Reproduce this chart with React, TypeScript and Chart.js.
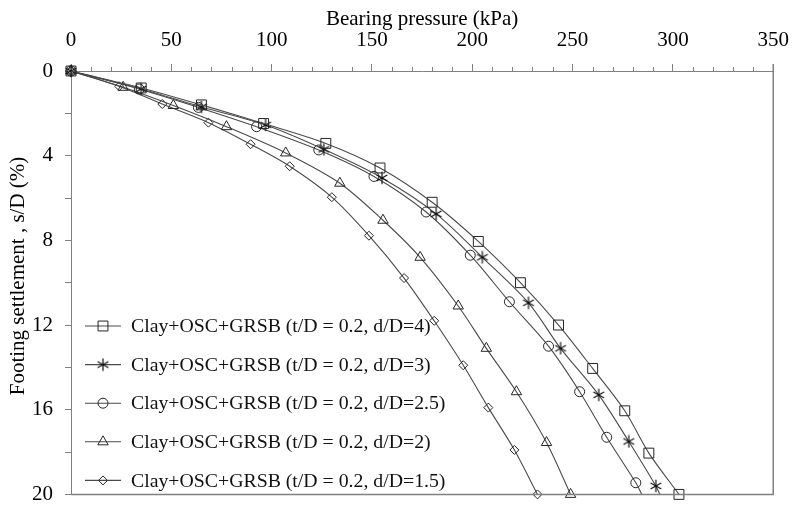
import React, { useEffect, useRef } from 'react';
import { Chart, registerables } from 'chart.js';

Chart.register(...registerables);

// ---- Data ----
const seriesLabels = [
  'Clay+OSC+GRSB (t/D = 0.2, d/D=4)',
  'Clay+OSC+GRSB (t/D = 0.2, d/D=3)',
  'Clay+OSC+GRSB (t/D = 0.2, d/D=2.5)',
  'Clay+OSC+GRSB (t/D = 0.2, d/D=2)',
  'Clay+OSC+GRSB (t/D = 0.2, d/D=1.5)',
];

const pressureD4 = [0, 35, 65, 96, 127, 154, 180, 203, 224, 243, 260, 276, 288, 303];
const settleD4 = [0, 0.8, 1.6, 2.48, 3.42, 4.58, 6.2, 8.05, 10.0, 12.0, 14.05, 16.05, 18.05, 20];

const pressureD3 = [0, 35, 65, 97, 126, 155, 182, 205, 228, 244, 263, 278, 291.5, 293.5];
const settleD3 = [0, 0.85, 1.7, 2.55, 3.7, 5.05, 6.75, 8.8, 10.95, 13.1, 15.3, 17.5, 19.6, 20];

const pressureD25 = [0, 34, 63.5, 92.5, 123.5, 151, 177, 199, 218.5, 238, 253.5, 267, 281.5, 284.5];
const settleD25 = [0, 0.85, 1.72, 2.63, 3.73, 4.98, 6.66, 8.7, 10.9, 13.0, 15.15, 17.3, 19.45, 20];

const pressureD2 = [0, 26, 51, 77.5, 107, 134, 155.5, 174, 193, 207, 222, 237, 249];
const settleD2 = [0, 0.77, 1.63, 2.63, 3.87, 5.3, 7.05, 8.8, 11.1, 13.1, 15.15, 17.55, 20];

const pressureD15 = [0, 24, 45.5, 68.5, 89.5, 109, 130, 148.5, 166, 181, 195.5, 208, 221, 232.5];
const settleD15 = [0, 0.72, 1.56, 2.44, 3.46, 4.5, 5.96, 7.78, 9.78, 11.8, 13.9, 15.9, 17.9, 20];

const xTitle = 'Bearing pressure (kPa)';
const yTitle = 'Footing settlement , s/D (%)';
const xTicksMax = 350;
const yTicksMax = 20;

// ---- Styling ----
const FONT = "'Liberation Serif', 'Times New Roman', serif";
const AXIS_GRAY = '#808080';
const LINE_COLOR = '#4a4a4a';
const MARK_COLOR = '#262626';

function makeStar(): HTMLCanvasElement {
  const c = document.createElement('canvas');
  c.width = 14;
  c.height = 14;
  const g = c.getContext('2d')!;
  g.strokeStyle = '#111';
  g.lineWidth = 1.2;
  const cx = 7, cy = 7, r = 6.2;
  g.beginPath();
  for (const a of [90, 30, 150]) {
    const rad = (a * Math.PI) / 180;
    g.moveTo(cx - r * Math.cos(rad), cy - r * Math.sin(rad));
    g.lineTo(cx + r * Math.cos(rad), cy + r * Math.sin(rad));
  }
  g.stroke();
  return c;
}

function drawMarker(ctx: CanvasRenderingContext2D, style: any, x: number, y: number, r: number) {
  ctx.save();
  ctx.strokeStyle = MARK_COLOR;
  ctx.lineWidth = 1;
  if (style instanceof HTMLCanvasElement) {
    ctx.drawImage(style, x - style.width / 2, y - style.height / 2);
  } else {
    ctx.beginPath();
    if (style === 'rect') {
      const s = Math.SQRT1_2 * r;
      ctx.rect(x - s, y - s, 2 * s, 2 * s);
    } else if (style === 'circle') {
      ctx.arc(x, y, r, 0, Math.PI * 2);
    } else if (style === 'triangle') {
      ctx.moveTo(x, y - r);
      ctx.lineTo(x + r * Math.sin(Math.PI * 2 / 3), y - r * Math.cos(Math.PI * 2 / 3));
      ctx.lineTo(x + r * Math.sin(Math.PI * 4 / 3), y - r * Math.cos(Math.PI * 4 / 3));
      ctx.closePath();
    } else if (style === 'rectRot') {
      ctx.moveTo(x - r, y);
      ctx.lineTo(x, y - r);
      ctx.lineTo(x + r, y);
      ctx.lineTo(x, y + r);
      ctx.closePath();
    }
    ctx.stroke();
  }
  ctx.restore();
}

export default function App() {
  const ref = useRef<HTMLCanvasElement | null>(null);

  useEffect(() => {
    if (!ref.current) return;
    const star = makeStar();

    const build = (px: number[], sy: number[]) => px.map((v, i) => ({ x: v, y: sy[i] }));
    const styles: any[] = ['rect', star, 'circle', 'triangle', 'rectRot'];
    const radii = [7, 6, 5, 6, 4.5];
    const sets = [
      build(pressureD4, settleD4),
      build(pressureD3, settleD3),
      build(pressureD25, settleD25),
      build(pressureD2, settleD2),
      build(pressureD15, settleD15),
    ];
    // last point of d/D=3 and d/D=2.5 curves is the curve leaving the frame (no marker)
    const hideLast = [false, true, true, false, false];

    const datasets = sets.map((d, i) => ({
      label: seriesLabels[i],
      data: d,
      showLine: true,
      borderColor: LINE_COLOR,
      borderWidth: 1.1,
      backgroundColor: 'rgba(255,255,255,0)',
      pointBorderColor: MARK_COLOR,
      pointBackgroundColor: 'rgba(255,255,255,0)',
      pointBorderWidth: 1,
      pointStyle: styles[i],
      pointRadius: d.map((_, k) => (hideLast[i] && k === d.length - 1 ? 0 : radii[i])),
      tension: 0.3,
      clip: 8,
    }));

    const legendPlugin = {
      id: 'customLegend',
      afterDraw(chart: any) {
        const ctx = chart.ctx as CanvasRenderingContext2D;
        ctx.save();
        const x0 = 85, x1 = 121, mx = 103, tx = 131;
        const y0 = 326, dy = 38.6;
        chart.data.datasets.forEach((ds: any, i: number) => {
          const y = y0 + i * dy;
          ctx.strokeStyle = LINE_COLOR;
          ctx.lineWidth = 1.1;
          ctx.beginPath();
          ctx.moveTo(x0, y);
          ctx.lineTo(x1, y);
          ctx.stroke();
          drawMarker(ctx, styles[i], mx, y, radii[i]);
          ctx.fillStyle = '#111';
          ctx.font = `19.8px ${FONT}`;
          ctx.textBaseline = 'middle';
          ctx.textAlign = 'left';
          ctx.fillText(ds.label, tx, y + 1);
        });
        // y axis title
        ctx.save();
        ctx.translate(18, 276);
        ctx.rotate(-Math.PI / 2);
        ctx.fillStyle = '#000';
        ctx.font = `21px ${FONT}`;
        ctx.textAlign = 'center';
        ctx.textBaseline = 'middle';
        ctx.fillText(yTitle, 0, 0);
        ctx.restore();
        ctx.restore();
      },
    };

    const framePlugin = {
      id: 'frame',
      afterDatasetsDraw(chart: any) {
        const { ctx, chartArea } = chart;
        const xs = chart.scales.x;
        ctx.save();
        ctx.strokeStyle = AXIS_GRAY;
        ctx.lineWidth = 1.5;
        ctx.beginPath();
        ctx.moveTo(chartArea.right, chartArea.top - 7);
        ctx.lineTo(chartArea.right, chartArea.bottom);
        ctx.lineTo(chartArea.left, chartArea.bottom);
        ctx.stroke();
        // minor ticks on the top axis
        ctx.lineWidth = 1;
        ctx.beginPath();
        for (let v = 10; v < xTicksMax; v += 10) {
          if (v % 50 === 0) continue;
          const px = Math.round(xs.getPixelForValue(v)) + 0.5;
          ctx.moveTo(px, chartArea.top);
          ctx.lineTo(px, chartArea.top - 4);
        }
        ctx.stroke();
        ctx.restore();
      },
    };

    const chart = new Chart(ref.current, {
      type: 'scatter',
      data: { datasets: datasets as any },
      plugins: [framePlugin, legendPlugin],
      options: {
        animation: false,
        responsive: true,
        maintainAspectRatio: false,
        layout: { padding: { left: 0, top: 0, right: 18, bottom: 6 } },
        plugins: {
          legend: { display: false },
          tooltip: { enabled: false },
        },
        scales: {
          x: {
            type: 'linear',
            position: 'top',
            min: 0,
            max: xTicksMax,
            ticks: {
              stepSize: 50,
              color: '#000',
              font: { family: FONT, size: 21 },
              padding: 11,
              maxRotation: 0,
            },
            grid: {
              drawOnChartArea: false,
              drawTicks: true,
              tickLength: 7,
              color: AXIS_GRAY,
            },
            border: { color: AXIS_GRAY, width: 1 },
            title: {
              display: true,
              text: xTitle,
              color: '#000',
              font: { family: FONT, size: 21 },
              padding: { top: 7, bottom: 0 },
            },
            afterFit: (s: any) => {
              s.height = 71;
            },
          },
          y: {
            type: 'linear',
            reverse: true,
            min: 0,
            max: yTicksMax,
            ticks: {
              stepSize: 2,
              color: '#000',
              font: { family: FONT, size: 21 },
              padding: 12,
              callback: (v: any) => (Number(v) % 4 === 0 ? String(v) : ''),
            },
            grid: {
              drawOnChartArea: false,
              drawTicks: true,
              tickLength: 6,
              color: AXIS_GRAY,
            },
            border: { color: AXIS_GRAY, width: 1 },
            title: { display: false },
            afterFit: (s: any) => {
              s.width = 71;
            },
          },
        },
      },
    });

    return () => chart.destroy();
  }, []);

  return (
    <div style={{ position: 'fixed', left: 0, top: 0, width: 800, height: 519, background: '#fff' }}>
      <canvas ref={ref} />
    </div>
  );
}
